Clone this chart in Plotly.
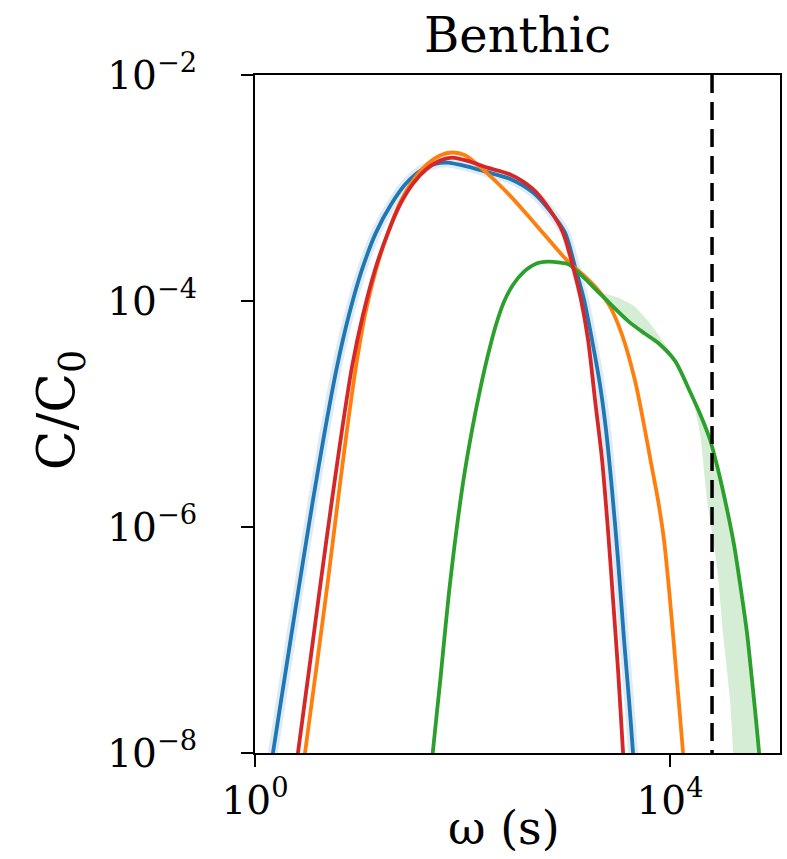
import plotly.graph_objects as go

# ---- data (log10 omega [s], log10 C/C0) ----
blue_logx = [0.106, 0.173, 0.308, 0.434, 0.559, 0.675, 0.790, 0.906, 1.031, 1.166, 1.311, 1.455, 1.610, 1.745, 1.851,
             2.05, 2.24, 2.46, 2.68, 2.84, 2.988, 3.084, 3.171, 3.248, 3.325, 3.383, 3.441, 3.499, 3.557, 3.605, 3.643, 3.672]
blue_logy = [-8.417, -8.0, -7.203, -6.469, -5.760, -5.140, -4.582, -4.122, -3.723, -3.395, -3.147, -2.961, -2.837, -2.784, -2.775,
             -2.81, -2.86, -2.92, -3.04, -3.20, -3.395, -3.696, -3.988, -4.343, -4.741, -5.140, -5.672, -6.292, -7.000, -7.531, -7.992, -8.417]

orange_logx = [0.424, 0.482, 0.598, 0.704, 0.800, 0.887, 0.973, 1.060, 1.166, 1.282, 1.398, 1.523, 1.648, 1.783, 1.899,
               2.024, 2.198, 2.458, 2.680, 2.872, 3.027, 3.161, 3.296, 3.422, 3.537, 3.663, 3.740, 3.817, 3.884, 3.942,
               4.000, 4.058, 4.125, 4.154]
orange_logy = [-8.417, -8.0, -7.203, -6.469, -5.760, -5.140, -4.582, -4.122, -3.723, -3.395, -3.13, -2.934, -2.80, -2.713, -2.686,
               -2.71, -2.837, -3.067, -3.297, -3.501, -3.660, -3.767, -3.891, -4.050, -4.298, -4.706, -5.052, -5.433, -5.760, -6.115,
               -6.646, -7.266, -7.992, -8.417]

green_logx = [1.677, 1.716, 1.783, 1.880, 2.005, 2.092, 2.169, 2.246, 2.323, 2.400, 2.487, 2.593, 2.708, 2.824, 2.940,
              3.027, 3.33, 3.60, 3.76, 3.884, 4.048,
              4.193, 4.289, 4.386, 4.463, 4.540, 4.617, 4.684, 4.742, 4.790, 4.829, 4.858, 4.896]
green_logy = [-8.417, -7.974, -7.381, -6.495, -5.609, -5.140, -4.786, -4.476, -4.210, -4.006, -3.856, -3.740, -3.670, -3.652, -3.661,
              -3.678, -3.94, -4.18, -4.29, -4.37, -4.53,
              -4.803, -4.998, -5.228, -5.494, -5.804, -6.158, -6.557, -6.938, -7.354, -7.709, -7.992, -8.417]

green_hi_logx = [3.027, 3.33, 3.50, 3.66, 3.79, 3.88, 3.98, 4.048, 4.193, 4.289, 4.386, 4.463, 4.540, 4.617, 4.684, 4.742,
                 4.790, 4.829, 4.858, 4.896]
green_hi_logy = [-3.678, -3.92, -3.97, -4.05, -4.18, -4.29, -4.42, -4.53, -4.803, -4.998, -5.228, -5.494, -5.804, -6.158, -6.557,
                 -6.938, -7.354, -7.709, -7.992, -8.417]
green_lo_logx = [3.027, 3.33, 3.60, 3.76, 3.884, 3.952, 4.096, 4.212, 4.289, 4.357, 4.453, 4.511, 4.578, 4.607, 4.627]
green_lo_logy = [-3.678, -3.94, -4.18, -4.29, -4.37, -4.43, -4.61, -4.86, -5.17, -5.76, -6.35, -6.94, -7.53, -7.98, -8.42]

red_logx = [0.357, 0.414, 0.530, 0.636, 0.742, 0.839, 0.935, 1.041, 1.157, 1.282, 1.398, 1.523, 1.648, 1.783, 1.899,
            2.05, 2.24, 2.46, 2.68, 2.84, 2.969, 3.065, 3.142, 3.210, 3.277, 3.345, 3.402, 3.451, 3.499, 3.547, 3.576]
red_logy = [-8.417, -8.0, -7.203, -6.469, -5.760, -5.140, -4.582, -4.122, -3.723, -3.395, -3.147, -2.961, -2.837, -2.757, -2.731,
            -2.76, -2.82, -2.88, -3.01, -3.19, -3.395, -3.696, -3.988, -4.343, -4.874, -5.405, -6.025, -6.645, -7.265, -7.992, -8.417]

dashed_log_omega = 4.405

x_tickvals = [1, 1e4]
x_ticktext = ["10<sup>0</sup>", "10<sup>4</sup>"]
y_tickvals = [1e-2, 1e-4, 1e-6, 1e-8]
y_ticktext = ["10<sup>\u22122</sup>", "10<sup>\u22124</sup>", "10<sup>\u22126</sup>", "10<sup>\u22128</sup>"]

BLUE, ORANGE, GREEN, RED = "#1f77b4", "#ff7f0e", "#2ca02c", "#d62728"
FONT = "DejaVu Serif"


def p(v):
    return [10 ** a for a in v]


fig = go.Figure()

# green uncertainty band
band_x = p(green_hi_logx) + p(green_lo_logx[::-1])
band_y = p(green_hi_logy) + p(green_lo_logy[::-1])
fig.add_trace(go.Scatter(x=band_x, y=band_y, fill="toself", mode="lines",
                         line=dict(width=0, shape="spline", smoothing=0.6),
                         fillcolor="rgba(44,160,44,0.2)",
                         hoverinfo="skip", showlegend=False))

# light halo for blue (uncertainty)
fig.add_trace(go.Scatter(x=p(blue_logx), y=p(blue_logy), mode="lines",
                         line=dict(color="rgba(31,119,180,0.15)", width=10, shape="spline", smoothing=0.8),
                         hoverinfo="skip", showlegend=False))

for lx, ly, c in [(blue_logx, blue_logy, BLUE), (orange_logx, orange_logy, ORANGE),
                  (green_logx, green_logy, GREEN), (red_logx, red_logy, RED)]:
    fig.add_trace(go.Scatter(x=p(lx), y=p(ly), mode="lines",
                             line=dict(color=c, width=3.8, shape="spline", smoothing=0.8),
                             showlegend=False))

fig.add_trace(go.Scatter(x=[10 ** dashed_log_omega] * 2, y=[1e-2, 1e-8], mode="lines",
                         line=dict(color="black", width=3.5, dash="18px,9px"),
                         showlegend=False))

axis_common = dict(showline=True, linecolor="black", linewidth=2, mirror=True,
                   ticks="outside", ticklen=12, tickwidth=2, tickcolor="black",
                   showgrid=False, zeroline=False,
                   tickfont=dict(family=FONT, size=39, color="black"))

fig.update_xaxes(type="log", range=[0, 5.06], tickvals=x_tickvals, ticktext=x_ticktext,
                 **axis_common)
fig.update_yaxes(type="log", range=[-8, -2], tickvals=y_tickvals, ticktext=y_ticktext,
                 ticklabelstandoff=36, **axis_common)

fig.update_layout(
    width=787, height=859,
    margin=dict(l=255, r=7, t=75, b=106, autoexpand=False),
    paper_bgcolor="white", plot_bgcolor="white",
    title=dict(text="Benthic", x=0.5, xref="paper", xanchor="center", y=1 - 35 / 859,
               yref="container", yanchor="middle", font=dict(family=FONT, size=48, color="black")),
    annotations=[
        dict(text="C/C<sub>0</sub>", xref="paper", yref="paper", x=-0.371, y=0.506,
             xanchor="center", yanchor="middle", textangle=-90, showarrow=False,
             font=dict(family=FONT, size=52, color="black")),
        dict(text="\u03c9 (s)", xref="paper", yref="paper", x=0.475, y=-0.111,
             xanchor="center", yanchor="middle", showarrow=False,
             font=dict(family=FONT, size=46, color="black")),
    ],
)

fig.write_html("out.html", config={"displayModeBar": False},
               post_script="document.body.style.margin='0px';")
